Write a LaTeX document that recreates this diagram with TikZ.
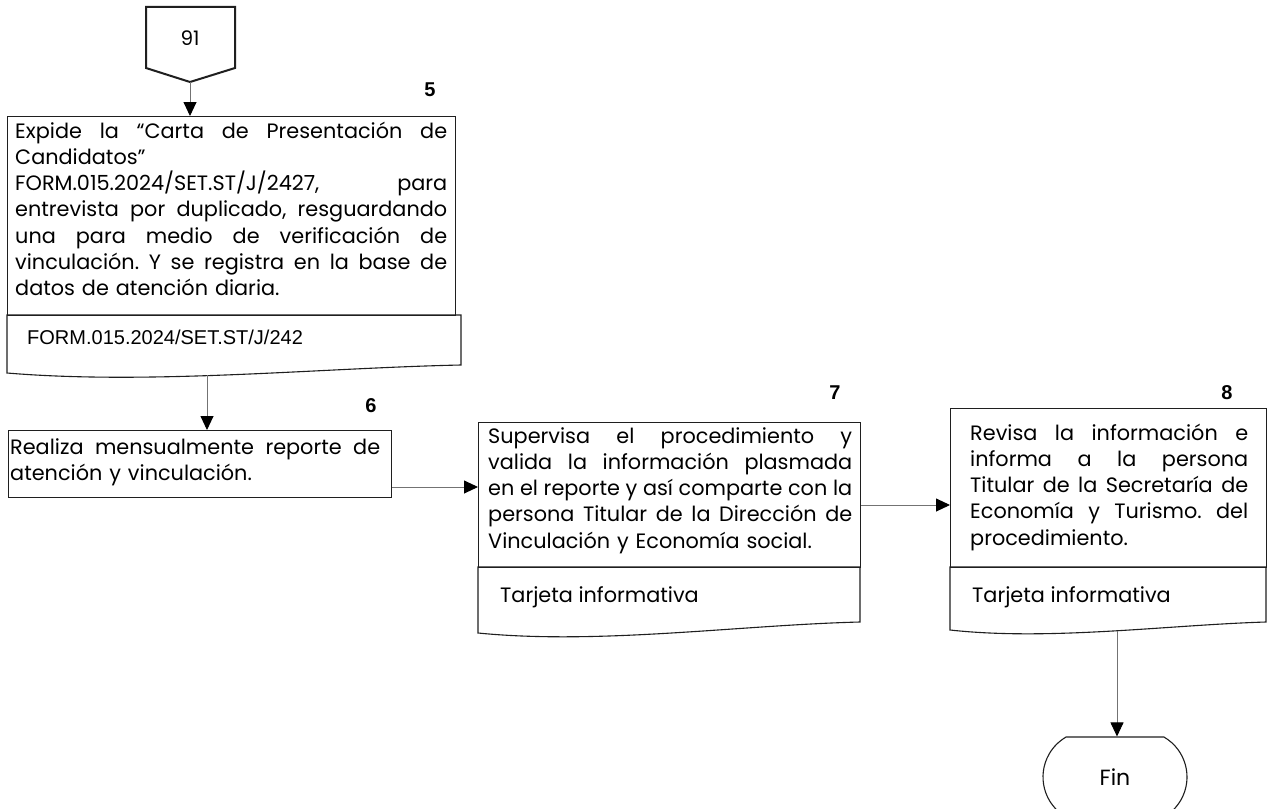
\documentclass[tikz,border=0pt]{standalone}
\usepackage{fontspec}
\setmainfont{Poppins}
\newfontfamily\arialfont{Liberation Sans}
\usetikzlibrary{arrows.meta,shapes.misc}
\frenchspacing

% one justified line, spread to the given width (font interword glue restored)
\newcommand{\jl}[2]{{\spaceskip=0pt\xspaceskip=0pt\makebox[#1][s]{#2}}}

\tikzset{
  box/.style={draw=black!88, line width=1.1pt, anchor=north west, inner sep=0pt},
  doc/.style={draw=black!88, line width=1.1pt},
  link/.style={draw=black!55, line width=0.9pt,
    -{Triangle[length=14pt,width=13pt,color=black]}},
  steptext/.style={anchor=base west, inner sep=0pt, align=left,
    font=\fontsize{20.8}{26.3}\selectfont},
  reftext/.style={anchor=base west, inner sep=0pt,
    font=\arialfont\fontsize{20}{22}\selectfont},
  doctext/.style={anchor=base west, inner sep=0pt,
    font=\fontsize{20.8}{22}\selectfont},
  stepnum/.style={inner sep=0pt, font=\arialfont\bfseries\fontsize{20}{22}\selectfont},
}

\begin{document}
\begin{tikzpicture}[x=1pt,y=-1pt]
\clip (0,0) rectangle (1268,808);
\fill[white] (0,0) rectangle (1268,808);

% off-page connector
\draw[black!88, line width=2pt, line join=miter]
  (146,7) -- (235,7) -- (235,68) -- (190,82) -- (146,68) -- cycle;
\node[font=\fontsize{20}{22}\selectfont] (c91) at (190,38) {91};
\coordinate (c91tip) at (190,82);

% step 5
\node[box, minimum width=448pt, minimum height=199pt] (b5) at (7,116) {};
\draw[doc] (7,315) -- (7,373) .. controls (151,385) and (319,368) .. (461,365)
  -- (461,315) -- cycle;
\node[steptext, text width=432pt] (t5) at (15,138) {%
  \jl{432pt}{Expide la “Carta de Presentación de}\\
  Candidatos”\\
  \jl{432pt}{FORM.015.2024/SET.ST/J/2427, para}\\
  \jl{432pt}{entrevista por duplicado, resguardando}\\
  \jl{432pt}{una para medio de verificación de}\\
  \jl{432pt}{vinculación. Y se registra en la base de}\\
  datos de atención diaria.};
\node[reftext] (r5) at (27,344) {FORM.015.2024/SET.ST/J/242};
\coordinate (b5bot) at (207,375);
\node[stepnum] (n5) at (430,90) {5};

% step 6
\node[box, minimum width=383pt, minimum height=67pt] (b6) at (8,430) {};
\node[steptext, text width=371pt] (t6) at (10,454) {%
  \jl{370pt}{Realiza mensualmente reporte de}\\
  atención y vinculación.};
\node[stepnum] (n6) at (371,406) {6};

% step 7
\node[box, minimum width=382pt, minimum height=145pt] (b7) at (478,422) {};
\draw[doc] (478,567) -- (478,633) .. controls (599,645) and (740,625) .. (860,622)
  -- (860,567) -- cycle;
\node[steptext, text width=364pt] (t7) at (488,443) {%
  \jl{364pt}{Supervisa el procedimiento y}\\
  \jl{364pt}{valida la información plasmada}\\
  \jl{364pt}{en el reporte y así comparte con la}\\
  \jl{364pt}{persona Titular de la Dirección de}\\
  Vinculación y Economía social.};
\node[doctext] (d7) at (500,602) {Tarjeta informativa};
\node[stepnum] (n7) at (835,393) {7};

% step 8
\node[box, minimum width=316pt, minimum height=159pt] (b8) at (950,408) {};
\draw[doc] (950,567) -- (950,630) .. controls (1050,641) and (1167,625) .. (1266,622)
  -- (1266,567) -- cycle;
\node[steptext, text width=278pt] (t8) at (970,440) {%
  \jl{278pt}{Revisa la información e}\\
  \jl{278pt}{informa a la persona}\\
  \jl{278pt}{Titular de la Secretaría de}\\
  \jl{278pt}{Economía y Turismo. del}\\
  procedimiento.};
\node[doctext] (d8) at (972,602) {Tarjeta informativa};
\node[stepnum] (n8) at (1227,393) {8};
\coordinate (b8bot) at (1117,631);

% end terminator
\node[rounded rectangle, rounded rectangle arc length=120, draw=black!88,
  line width=1.1pt, minimum width=144pt, minimum height=80pt, inner sep=0pt,
  font=\fontsize{22}{24}\selectfont] (fin) at (1115,777) {Fin};

% connectors
\coordinate (j67) at (0,487);
\coordinate (j78) at (0,505);
\draw[link] (c91tip) -- (c91tip |- b5.north);
\draw[link] (b5bot) -- (b5bot |- b6.north);
\draw[link] (b6.east |- j67) -- (b7.west |- j67);
\draw[link] (b7.east |- j78) -- (b8.west |- j78);
\draw[link] (b8bot) -- (b8bot |- fin.north);
\end{tikzpicture}
\end{document}
